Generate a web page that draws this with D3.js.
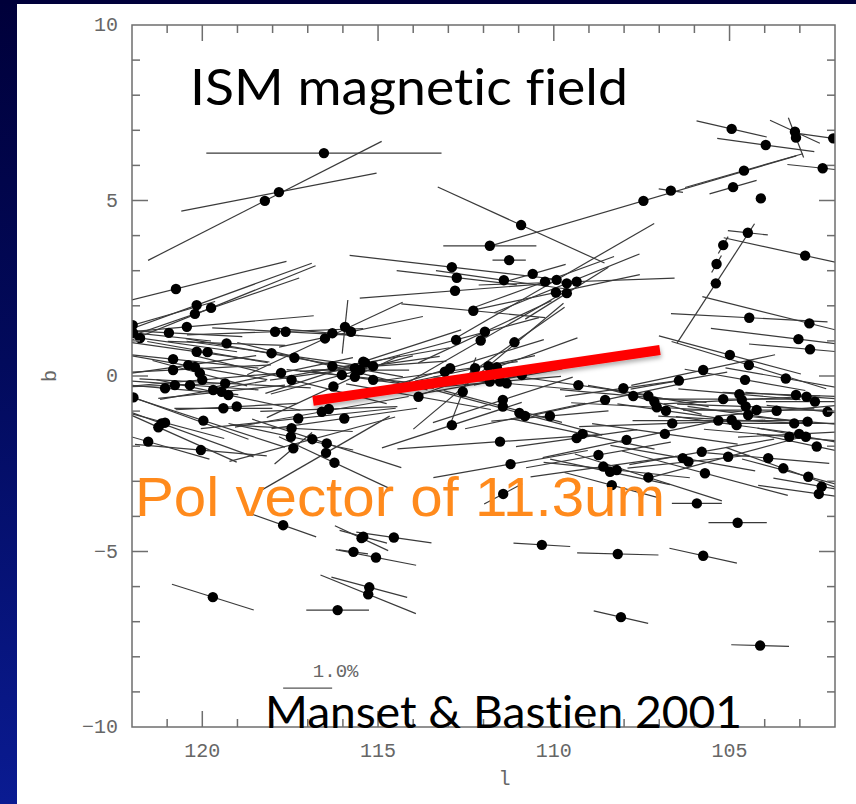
<!DOCTYPE html>
<html>
<head>
<meta charset="utf-8">
<script src="https://cdn.jsdelivr.net/npm/d3@7"></script>
<style>
  html, body { margin: 0; padding: 0; background: #fff; overflow: hidden; }
  svg { display: block; }
  .title { font-variant-ligatures: none; font-feature-settings: "liga" 0, "clig" 0, "dlig" 0; }
</style>
</head>
<body>
<svg id="chart" width="856" height="804"></svg>
<script>
// Galactic longitude of each star (deg)
const lon = [
  116.54,117.82,118.22,120.75,120.16,120.21,119.75,120.44,120.95,121.98,121.97,121.77,
  119.31,120.16,119.85,120.83,120.83,120.40,120.21,120.07,120.00,121.06,120.78,120.35,119.69,119.35,119.45,119.26,121.96,119.40,119.02,119.97,121.16,121.25,121.06,121.54,120.04,
  118.03,117.38,117.76,117.46,117.93,117.63,116.51,116.30,115.94,115.77,116.30,116.03,115.66,115.42,115.66,116.27,117.27,116.60,116.40,115.96,117.46,117.48,117.41,116.87,116.46,116.48,116.24,
  110.93,111.82,111.27,112.90,112.76,112.81,111.42,110.60,110.25,109.92,109.63,109.35,109.94,109.63,112.29,111.96,112.08,112.78,111.12,115.37,115.14,115.14,115.51,112.95,113.10,112.24,111.86,111.62,111.82,111.53,111.34,110.91,112.59,113.85,111.45,111.45,110.98,110.82,110.11,109.30,112.90,111.53,111.23,109.18,109.35,108.73,
  104.44,102.73,103.04,102.71,104.99,104.45,105.75,104.56,103.40,106.44,108.02,108.54,107.74,107.31,107.14,107.07,106.81,105.18,104.72,104.65,104.54,104.47,104.23,103.66,103.11,102.81,102.57,102.21,106.63,105.32,104.94,104.80,103.16,102.78,103.30,103.02,102.83,106.84,107.93,102.52,105.79,105.04,103.90,106.33,106.17,108.59,108.40,108.21,105.70,103.47,102.76,107.31,102.38,102.46,108.35,
  104.94,103.97,103.14,103.11,102.05,102.35,107.45,106.67,104.59,104.90,104.11,104.48,105.18,105.37,105.39,102.85,
  117.70,115.47,115.70,119.70,116.15,111.44,115.42,114.55,115.06,115.25,115.28,110.34,105.93,104.77,108.18,105.75,108.09,104.13
];
// Galactic latitude of each star (deg)
const lat = [
  6.35,5.24,4.99,2.48,2.02,1.77,1.94,1.40,1.23,1.45,1.23,1.08,
  0.93,0.69,0.68,0.48,0.17,0.31,0.26,0.08,-0.11,-0.35,-0.26,-0.26,-0.40,-0.21,-0.45,-0.54,-0.61,-0.92,-0.87,-1.27,-1.35,-1.46,-1.33,-1.87,-2.11,
  0.65,0.52,0.09,-0.11,1.26,1.26,1.07,1.22,1.40,1.26,0.28,0.03,0.22,0.41,-0.02,-0.30,-1.21,-1.02,-0.94,-1.21,-1.49,-1.73,-2.06,-1.80,-1.92,-2.19,-2.47,
  4.30,3.71,3.30,3.10,2.80,2.43,2.73,2.91,2.69,2.74,2.64,2.69,2.38,2.36,1.86,1.26,1.01,1.03,0.96,0.38,0.28,-0.11,0.17,0.22,0.12,0.22,0.28,0.25,-0.16,-0.16,-0.21,0.03,-0.45,-0.59,-0.68,-0.87,-1.05,-1.14,-1.14,-0.26,-1.40,-1.87,-2.51,-1.65,-1.77,-2.25,
  1.66,1.50,1.05,0.76,0.60,0.31,0.17,-0.11,-0.07,-0.13,-0.35,-0.68,-0.57,-0.57,-0.73,-0.89,-0.99,-0.66,-0.52,-0.68,-0.87,-1.11,-0.97,-0.99,-0.54,-0.59,-0.73,-1.02,-1.35,-1.27,-1.25,-1.40,-1.35,-1.30,-1.73,-1.65,-1.73,-1.65,-1.82,-2.01,-2.16,-2.30,-2.34,-2.34,-2.44,-2.58,-2.73,-2.68,-2.77,-2.63,-2.87,-2.89,-3.15,-3.36,-3.11,
  7.04,6.58,6.96,6.79,6.77,5.92,4.99,5.28,5.85,5.38,5.06,4.08,3.73,3.19,2.64,3.43,
  -4.25,-4.62,-5.01,-6.30,-6.67,-3.36,-4.58,-4.60,-5.17,-6.02,-6.22,-4.81,-3.63,-4.18,-5.07,-5.12,-6.87,-7.68
];
// Degree of polarization (%)
const pol = [
  4.8,4.06,5.35,4.65,5.0,4.5,4.6,5.2,3.0,3.5,3.2,4.0,
  2.4,3.0,2.5,3.5,4.0,2.8,3.0,2.0,3.2,3.0,2.5,2.8,2.2,3.5,2.6,3.0,5.0,2.0,2.5,3.5,4.0,3.5,2.5,2.6,2.7,
  3.5,4.5,3.0,4.0,3.6,3.0,3.5,2.4,1.1,3.0,4.0,3.0,3.5,4.2,2.8,3.0,4.0,3.6,2.8,3.0,2.5,2.6,1.0,3.5,3.2,3.0,2.5,
  3.74,1.9,0.68,4.2,2.47,3.9,2.8,1.4,3.0,4.6,3.2,4.0,3.5,2.0,2.95,3.0,4.0,3.5,2.5,3.5,3.0,2.5,2.0,4.0,3.0,2.5,4.0,3.5,3.0,2.5,3.0,2.0,1.5,3.0,3.0,2.5,3.5,2.5,2.4,3.0,3.0,4.2,3.2,3.0,2.5,3.0,
  3.2,4.5,3.6,2.5,3.0,3.3,3.0,2.5,2.5,2.0,2.4,3.0,3.0,2.5,2.0,3.5,2.0,3.0,2.5,3.2,2.8,2.5,3.0,2.5,3.0,2.5,2.0,2.5,3.8,3.5,3.0,2.5,3.0,2.4,3.5,2.5,2.0,3.0,3.5,2.5,3.0,3.5,2.5,3.0,2.5,3.0,2.5,3.0,3.5,2.5,2.8,3.15,2.0,2.5,2.0,
  1.47,2.0,1.12,0.87,1.4,1.45,6.5,0.5,2.5,1.0,0.1,0.82,0.4,0.4,2.9,3.4,
  1.43,1.2,0.6,1.75,1.28,0.88,1.0,1.55,1.67,1.6,2.1,1.16,1.02,1.19,1.66,1.41,1.14,1.18
];
// Orientation of each vector relative to the plane (deg, positive = rising toward lower l)
const ang = [
  0,11,27,14,20,19,22,5,-3,16,-6,-8,
  -2,-8,-10,-6,3,8,-10,-15,5,-5,2,-4,10,-3,6,-12,-20,0,3,-18,-20,-24,-15,-16,-5,
  -8,-10,12,-14,2,-3,25,-5,84,12,-14,15,8,18,-6,25,6,10,2,8,-3,-12,40,15,-18,30,-25,
  -24.5,0,0,-6.6,-6.7,4.4,-8,16,20,30,22,2,12,32,-5.5,25,30,15,35,10,4,-8,0,17,8,12,40,20,10,5,-5,12,69,-10,18,-15,-15,12,5,-8,18,4,10,-12,8,10,
  -3,-14,-7,-5,-15,-17,12,-10,-10,10,8,12,-5,-10,-15,-3,-8,0,-5,3,-2,-8,0,5,-2,-4,0,-6,2,0,-3,-8,0,-5,-5,3,-10,-8,12,-12,10,15,-5,-10,6,8,-12,-6,-15,-20,-15,-17.7,-10,-8,-15,
  -13,-7.8,-24.7,-69,-8,-6,16.4,-8,16,16,0,-6,60,60,57,-12.4,
  -19.5,-25,-8,-17.5,0,28,-15,-8.2,-11,-15,-22,-3.4,0,0,-1.5,-12.5,-13,-1.6
];

const xTickLabels = [120, 115, 110, 105];
const yTickLabels = [10, 5, 0, -5, -10];
// 11.3 micron polarization vector (end points in l, b)
const bandLon = [116.85, 106.98];
const bandLat = [-0.71, 0.74];
// reference bar
const barPol = 1.0;
const barLon = 117.70, barLat = -8.89;

const W = 856, H = 804;
const plot = { left: 132, right: 835, top: 25, bottom: 727 };

const svg = d3.select("#chart");
const defs = svg.append("defs");

// slide frame
const grad = defs.append("linearGradient").attr("id", "edge").attr("x1", 0).attr("y1", 0).attr("x2", 0).attr("y2", 1);
grad.append("stop").attr("offset", "0%").attr("stop-color", "#00003a");
grad.append("stop").attr("offset", "45%").attr("stop-color", "#020a5c");
grad.append("stop").attr("offset", "100%").attr("stop-color", "#0a1b92");
svg.append("rect").attr("width", W).attr("height", H).attr("fill", "#fff");
svg.append("rect").attr("x", 0).attr("y", 0).attr("width", 17).attr("height", H).attr("fill", "url(#edge)");
svg.append("rect").attr("x", 0).attr("y", 0).attr("width", W).attr("height", 4).attr("fill", "#00003a");

const x = d3.scaleLinear().domain([122, 102]).range([plot.left, plot.right]);
const y = d3.scaleLinear().domain([-10, 10]).range([plot.bottom, plot.top]);
const pScale = d3.scaleLinear().domain([0, 1]).range([0, 49]);

defs.append("clipPath").attr("id", "plotClip")
  .append("rect").attr("x", plot.left).attr("y", plot.top)
  .attr("width", plot.right - plot.left).attr("height", plot.bottom - plot.top);

const stars = lon.map((l, i) => ({ l, b: lat[i], p: pol[i], a: ang[i] }));

const g = svg.append("g").attr("clip-path", "url(#plotClip)");
g.selectAll("line.vec").data(stars).join("line")
  .attr("class", "vec")
  .attr("x1", d => x(d.l) - pScale(d.p) / 2 * Math.cos(d.a * Math.PI / 180))
  .attr("y1", d => y(d.b) + pScale(d.p) / 2 * Math.sin(d.a * Math.PI / 180))
  .attr("x2", d => x(d.l) + pScale(d.p) / 2 * Math.cos(d.a * Math.PI / 180))
  .attr("y2", d => y(d.b) - pScale(d.p) / 2 * Math.sin(d.a * Math.PI / 180))
  .attr("stroke", "#3a3a3a").attr("stroke-width", 1.2);
g.selectAll("circle.star").data(stars).join("circle")
  .attr("class", "star")
  .attr("cx", d => x(d.l)).attr("cy", d => y(d.b)).attr("r", 5.2)
  .attr("fill", "#000");

// frame and ticks
const axisColor = "#6e6e6e";
const frame = svg.append("g").attr("stroke", axisColor).attr("stroke-width", 1.5).attr("fill", "none");
frame.append("rect").attr("x", plot.left).attr("y", plot.top)
  .attr("width", plot.right - plot.left).attr("height", plot.bottom - plot.top);

const lTicks = d3.range(103, 122);
const bTicks = d3.range(-9, 10);
frame.selectAll("line.xb").data(lTicks).join("line")
  .attr("x1", d => x(d)).attr("x2", d => x(d))
  .attr("y1", plot.bottom).attr("y2", d => plot.bottom - (d % 5 === 0 ? 16 : 8));
frame.selectAll("line.xt").data(lTicks).join("line")
  .attr("x1", d => x(d)).attr("x2", d => x(d))
  .attr("y1", plot.top).attr("y2", d => plot.top + (d % 5 === 0 ? 16 : 8));
frame.selectAll("line.yl").data(bTicks).join("line")
  .attr("y1", d => y(d)).attr("y2", d => y(d))
  .attr("x1", plot.left).attr("x2", d => plot.left + (d % 5 === 0 ? 16 : 8));
frame.selectAll("line.yr").data(bTicks).join("line")
  .attr("y1", d => y(d)).attr("y2", d => y(d))
  .attr("x1", plot.right).attr("x2", d => plot.right - (d % 5 === 0 ? 16 : 8));

const tickFont = "'Liberation Mono', 'DejaVu Sans Mono', monospace";
const fmt = v => (v < 0 ? "\u2212" + Math.abs(v) : String(v));
svg.append("g").selectAll("text").data(xTickLabels).join("text")
  .attr("x", d => x(d)).attr("y", 757)
  .attr("text-anchor", "middle")
  .attr("font-family", tickFont).attr("font-size", 20).attr("fill", "#666")
  .text(fmt);
svg.append("g").selectAll("text").data(yTickLabels).join("text")
  .attr("x", 118).attr("y", d => y(d) + 6)
  .attr("text-anchor", "end")
  .attr("font-family", tickFont).attr("font-size", 20).attr("fill", "#666")
  .text(fmt);
svg.append("text").attr("x", x(111.4)).attr("y", 785).attr("text-anchor", "middle")
  .attr("font-family", tickFont).attr("font-size", 20).attr("fill", "#666").text("l");
svg.append("text").attr("transform", `translate(56,${y(0)}) rotate(-90)`).attr("text-anchor", "middle")
  .attr("font-family", tickFont).attr("font-size", 20).attr("fill", "#666").text("b");

// 1% reference bar
svg.append("line")
  .attr("x1", x(barLon)).attr("x2", x(barLon) + pScale(barPol))
  .attr("y1", y(barLat)).attr("y2", y(barLat))
  .attr("stroke", "#555").attr("stroke-width", 1.3);
svg.append("text").attr("x", x(barLon) + pScale(barPol) / 2 + 28).attr("y", y(barLat) - 11)
  .attr("text-anchor", "middle")
  .attr("font-family", tickFont).attr("font-size", 19).attr("fill", "#666")
  .text(barPol.toFixed(1) + "%");

// 11.3um polarization vector
const shadow = defs.append("filter").attr("id", "shade").attr("x", "-10%").attr("y", "-100%").attr("width", "120%").attr("height", "300%");
shadow.append("feDropShadow").attr("dx", 1).attr("dy", 3).attr("stdDeviation", 2)
  .attr("flood-color", "#000").attr("flood-opacity", 0.3);
svg.append("line")
  .attr("x1", x(bandLon[0])).attr("y1", y(bandLat[0]))
  .attr("x2", x(bandLon[1])).attr("y2", y(bandLat[1]))
  .attr("stroke", "#ff0000").attr("stroke-width", 10)
  .attr("filter", "url(#shade)");

// annotations
svg.append("text").attr("class", "title").attr("x", 190).attr("y", 105)
  .attr("font-family", "Lato, 'Open Sans', sans-serif").attr("font-size", 50)
  .attr("textLength", 438).attr("lengthAdjust", "spacingAndGlyphs")
  .attr("fill", "#000").text("ISM magnetic field");
svg.append("text").attr("class", "title").attr("x", 265).attr("y", 728)
  .attr("font-family", "Lato, 'Open Sans', sans-serif").attr("font-size", 44)
  .attr("textLength", 477).attr("lengthAdjust", "spacingAndGlyphs")
  .attr("fill", "#000").text("Manset & Bastien 2001");
svg.append("text").attr("x", 135).attr("y", 516)
  .attr("font-family", "'Liberation Sans', Arial, sans-serif").attr("font-size", 55)
  .attr("textLength", 530).attr("lengthAdjust", "spacingAndGlyphs")
  .attr("fill", "#ff8a1c").text("Pol vector of 11.3um");
</script>
</body>
</html>
